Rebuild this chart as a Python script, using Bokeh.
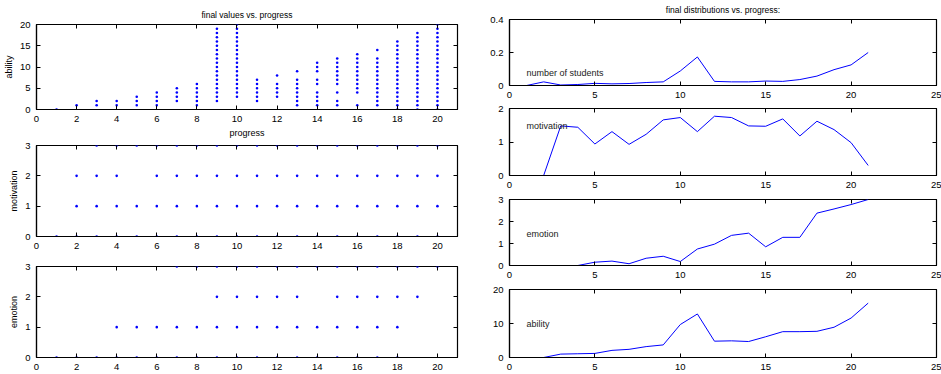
import math
from bokeh.plotting import figure
from bokeh.layouts import row, column
from bokeh.models import (LinearAxis, SingleIntervalTicker, Range1d, Label, NumeralTickFormatter,
                          CustomJSTickFormatter)
from bokeh.embed import file_html
from bokeh.resources import INLINE

FONT = "Liberation Sans"
BLUE = "#0000ff"
NAN = float("nan")

# ---------------- data ----------------
progress = [1, 2, 3, 4, 5, 6, 7, 8, 9, 10, 11, 12, 13, 14, 15, 16, 17, 18, 19, 20]

ability_final = [
    [0],
    [1],
    [1, 2],
    [1, 2],
    [1, 2, 3],
    [1, 2, 3, 4],
    [2, 3, 4, 5],
    [1, 2, 3, 4, 5, 6],
    [2, 3, 4, 5, 6, 7, 8, 9, 10, 11, 12, 13, 14, 15, 16, 17, 18, 19],
    [3, 4, 5, 6, 7, 8, 9, 10, 11, 12, 13, 14, 15, 16, 17, 18, 19, 20],
    [2, 3, 4, 5, 6, 7],
    [3, 4, 5, 6, 8],
    [1, 2, 3, 4, 5, 6, 7, 9],
    [1, 2, 3, 4, 6, 7, 9, 10, 11],
    [1, 2, 4, 6, 7, 8, 9, 10, 11, 12],
    [1, 4, 5, 6, 7, 8, 9, 10, 11, 12, 13],
    [1, 2, 3, 4, 5, 6, 7, 8, 9, 10, 11, 12, 14],
    [0, 1, 2, 3, 4, 5, 6, 7, 8, 9, 10, 11, 12, 13, 14, 15, 16],
    [0, 1, 2, 3, 4, 5, 6, 7, 8, 9, 10, 11, 12, 13, 14, 15, 16, 17, 18],
    [0, 1, 2, 3, 4, 5, 6, 7, 8, 9, 10, 11, 12, 13, 14, 15, 16, 17, 18, 19, 20],
]

motivation_final = [
    [0], [0, 1, 2], [0, 1, 2, 3], [0, 1, 2, 3], [0, 1, 3],
    [0, 1, 2, 3], [0, 1, 2, 3], [0, 1, 2, 3], [0, 1, 2, 3], [0, 1, 2, 3],
    [0, 1, 2, 3], [0, 1, 2, 3], [0, 1, 2, 3], [0, 1, 2, 3], [0, 1, 2, 3],
    [0, 1, 2, 3], [0, 1, 2, 3], [0, 1, 2, 3], [0, 1, 2, 3], [0, 1, 2, 3],
]

emotion_final = [
    [0], [0], [0], [0, 1], [0, 1],
    [0, 1], [0, 1, 3], [0, 1, 3], [0, 1, 2, 3], [0, 1, 2, 3],
    [0, 1, 2, 3], [0, 1, 2, 3], [0, 1, 2, 3], [0, 1, 3], [0, 1, 2, 3],
    [0, 1, 2, 3], [0, 1, 2, 3], [0, 1, 2, 3], [2, 3], [3],
]

steps = [1, 2, 3, 4, 5, 6, 7, 8, 9, 10, 11, 12, 13, 14, 15, 16, 17, 18, 19, 20, 21]
students_share = [0.0, 0.022, 0.003, 0.006, 0.013, 0.010, 0.012, 0.018, 0.022, 0.088,
                  0.173, 0.025, 0.022, 0.022, 0.027, 0.025, 0.036, 0.057, 0.096, 0.125, 0.200]
motivation_mean = [NAN, 0.0, 1.48, 1.44, 0.94, 1.31, 0.93, 1.23, 1.66, 1.73,
                   1.31, 1.77, 1.73, 1.48, 1.47, 1.69, 1.18, 1.62, 1.37, 0.98, 0.30]
emotion_mean = [NAN, 0.0, 0.0, 0.0, 0.15, 0.20, 0.08, 0.33, 0.42, 0.18,
                0.75, 0.97, 1.37, 1.47, 0.85, 1.28, 1.28, 2.38, 2.57, 2.77, 3.0]
ability_mean = [NAN, 0.0, 1.0, 1.1, 1.2, 2.1, 2.4, 3.2, 3.7, 9.7,
                12.8, 4.8, 4.9, 4.7, 6.1, 7.6, 7.6, 7.7, 8.9, 11.6, 16.0]


def flatten(groups):
    xs, ys = [], []
    for x, vals in zip(progress, groups):
        for v in vals:
            xs.append(x)
            ys.append(v)
    return xs, ys


def style_axis(ax):
    ax.major_tick_in = 4
    ax.major_tick_out = 0
    ax.minor_tick_line_color = None
    ax.axis_line_color = "black"
    ax.axis_line_width = 1.2
    ax.major_tick_line_color = "black"
    ax.major_label_text_font = FONT
    ax.major_label_text_font_size = "9.5px"
    ax.major_label_text_color = "black"
    ax.major_label_standoff = 2
    ax.axis_label_text_font = FONT
    ax.axis_label_text_font_size = "9px"
    ax.axis_label_text_font_style = "normal"
    ax.axis_label_text_color = "black"
    ax.axis_label_standoff = 3


def make_fig(w, h, xr, yr, xint, yint, bl, br, bt, bb):
    p = figure(width=w, height=h, x_range=Range1d(*xr), y_range=Range1d(*yr),
               min_border_left=bl, min_border_right=br, min_border_top=bt, min_border_bottom=bb,
               toolbar_location=None, output_backend="svg", tools="")
    p.xgrid.grid_line_color = None
    p.ygrid.grid_line_color = None
    p.outline_line_color = "black"
    p.outline_line_width = 1.2
    p.outline_line_alpha = 1
    p.background_fill_color = "white"
    p.border_fill_color = "white"
    xax = p.xaxis[0]
    yax = p.yaxis[0]
    xax.ticker = SingleIntervalTicker(interval=xint)
    yax.ticker = SingleIntervalTicker(interval=yint)
    style_axis(xax)
    style_axis(yax)
    blank = CustomJSTickFormatter(code="return ''")
    top = LinearAxis(ticker=SingleIntervalTicker(interval=xint), major_tick_in=4, major_tick_out=0,
                     minor_tick_line_color=None, axis_line_color=None, formatter=blank,
                     major_label_standoff=0, major_label_text_font_size="9px")
    right = LinearAxis(ticker=SingleIntervalTicker(interval=yint), major_tick_in=4, major_tick_out=0,
                       minor_tick_line_color=None, axis_line_color=None, formatter=blank,
                       major_label_standoff=0, major_label_text_font_size="9px")
    p.add_layout(top, "above")
    p.add_layout(right, "right")
    return p, xax, yax


def set_title(p, text):
    p.title.text = text
    p.title.align = "center"
    p.title.text_font = FONT
    p.title.text_font_size = "8.5px"
    p.title.text_font_style = "normal"
    p.title.text_color = "black"
    p.title.standoff = 2


DOT = 2.6

# ---------------- left column ----------------
LW = 470
l1, l1x, l1y = make_fig(LW, 140, (0, 21), (0, 20), 2, 5, 35, 13, 24, 24)
set_title(l1, "final values vs. progress")
l1x.axis_label = "progress"
l1y.axis_label = "ability"
ax, ay = flatten(ability_final)
l1.scatter(ax, ay, size=DOT, color=BLUE, marker="circle", line_width=0)

l2, l2x, l2y = make_fig(LW, 120, (0, 21), (0, 3), 2, 1, 35, 13, 5, 24)
l2y.axis_label = "motivation"
mx, my = flatten(motivation_final)
l2.scatter(mx, my, size=DOT, color=BLUE, marker="circle", line_width=0)

l3, l3x, l3y = make_fig(LW, 114, (0, 21), (0, 3), 2, 1, 35, 13, 6, 17)
l3y.axis_label = "emotion"
ex, ey = flatten(emotion_final)
l3.scatter(ex, ey, size=DOT, color=BLUE, marker="circle", line_width=0)

# ---------------- right column ----------------
RW = 471
r1, r1x, r1y = make_fig(RW, 100, (0, 25), (0, 0.4), 5, 0.2, 39, 5, 19, 13)
set_title(r1, "final distributions vs. progress:")
r1y.formatter = NumeralTickFormatter(format="0.[0]")
r1.line(steps, students_share, color=BLUE, line_width=1)
r1.add_layout(Label(x=1, y=0.075, text="number of students", text_font=FONT,
                    text_font_size="9px", text_baseline="middle", text_color="#222222"))

r2, r2x, r2y = make_fig(RW, 90, (0, 25), (0, 2), 5, 1, 39, 5, 8, 13)
r2.line(steps, motivation_mean, color=BLUE, line_width=1)
r2.add_layout(Label(x=1, y=1.48, text="motivation", text_font=FONT,
                    text_font_size="9px", text_baseline="middle", text_color="#222222"))

r3, r3x, r3y = make_fig(RW, 90, (0, 25), (0, 3), 5, 1, 39, 5, 9, 13)
r3.line(steps, emotion_mean, color=BLUE, line_width=1)
r3.add_layout(Label(x=1, y=1.45, text="emotion", text_font=FONT,
                    text_font_size="9px", text_baseline="middle", text_color="#222222"))

r4, r4x, r4y = make_fig(RW, 94, (0, 25), (0, 20), 5, 10, 39, 5, 9, 17)
r4.line(steps, ability_mean, color=BLUE, line_width=1)
r4.add_layout(Label(x=1, y=9.9, text="ability", text_font=FONT,
                    text_font_size="9px", text_baseline="middle", text_color="#222222"))

layout = row(column(l1, l2, l3, spacing=0), column(r1, r2, r3, r4, spacing=0), spacing=0)

open("out.html", "w").write(file_html(layout, INLINE))
